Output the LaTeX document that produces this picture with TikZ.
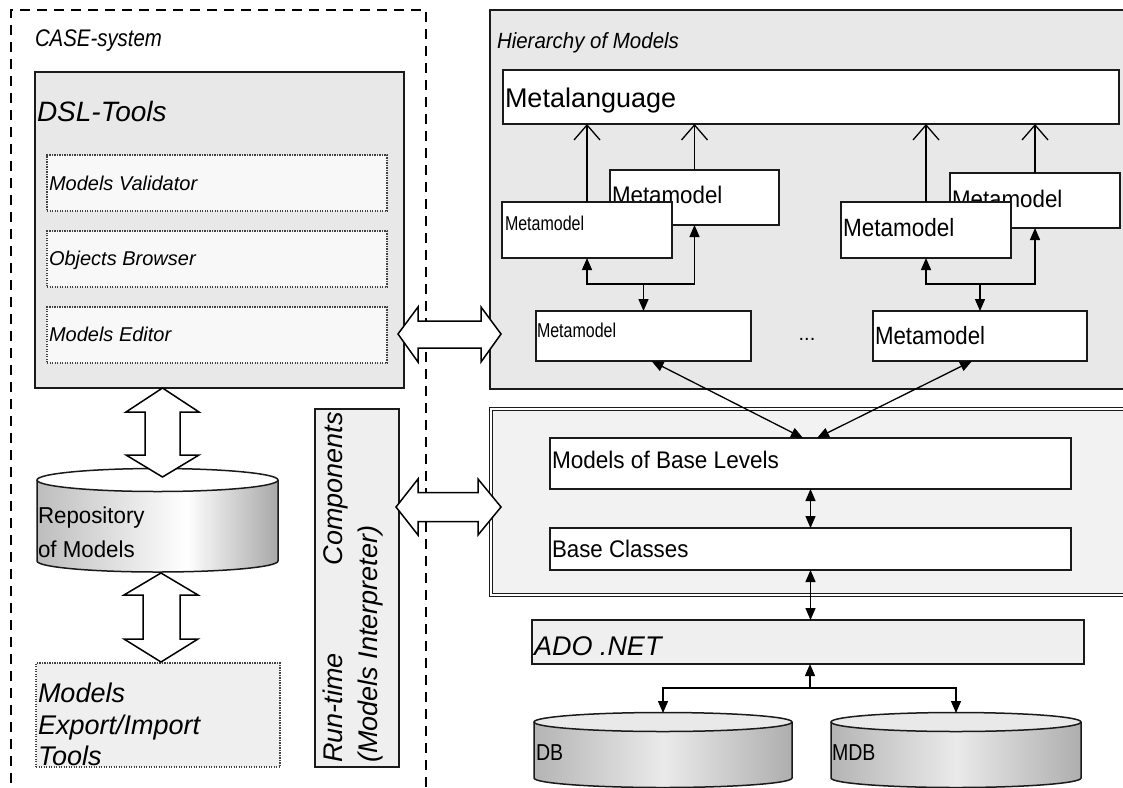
\documentclass[tikz,border=0pt]{standalone}
\usepackage{fontspec}
\setmainfont{Liberation Sans}
\usepackage{graphicx}
\usetikzlibrary{arrows.meta,calc}

\definecolor{panel}{HTML}{E8E8E8}
\definecolor{pale}{HTML}{F8F8F8}
\definecolor{basefill}{HTML}{F2F2F2}
\definecolor{softfill}{HTML}{EFEFEF}
\definecolor{edge}{HTML}{1A1A1A}
\definecolor{cylA}{HTML}{BDBDBD}
\definecolor{cylB}{HTML}{A8A8A8}
\definecolor{cylC}{HTML}{B4B4B4}
\definecolor{cylD}{HTML}{EAEAEA}
\definecolor{cylE}{HTML}{AEAEAE}
\definecolor{cyltop}{HTML}{E9E9E9}

\pgfdeclarehorizontalshading{repobody}{100bp}{color(0bp)=(cylA); color(25bp)=(cylA); color(56bp)=(white); color(75bp)=(cylB); color(100bp)=(cylB)}
\pgfdeclarehorizontalshading{dbbody}{100bp}{color(0bp)=(cylC); color(25bp)=(cylC); color(50bp)=(cylD); color(75bp)=(cylE); color(100bp)=(cylE)}

\newcommand\fs[1]{\fontsize{#1}{#1}\selectfont}
\newcommand\narrow[2]{\scalebox{#1}[1]{#2}}

\tikzset{
  frame/.style={draw=edge, line width=1.6pt, inner sep=0pt, outer sep=0pt, anchor=north west},
  whitebox/.style={frame, fill=white},
  dotbox/.style={draw=black!75, line width=1.1pt, dash pattern=on 1.1pt off 1.4pt, inner sep=0pt, outer sep=0pt, anchor=north west},
  lbl/.style={anchor=base west, inner sep=0pt, outer sep=0pt},
  conn/.style={draw=black, line width=1.3pt},
  tri/.tip={Triangle[length=12pt,width=10pt]},
  barb/.tip={Straight Barb[length=15pt,width=26pt]},
  hollow/.style={draw=black, line width=1.5pt, fill=white, line join=miter},
  cylline/.style={draw=edge, line width=1.5pt},
}

\begin{document}
\begin{tikzpicture}[x=1pt,y=-1pt]
\useasboundingbox (0,0) rectangle (1123,787);
\fill[white] (0,0) rectangle (1123,787);
\clip (0,0) rectangle (1123,787);

% ---------- CASE-system frame ----------
\draw[line width=2pt, dash pattern=on 10pt off 7pt] (11,800) -- (11,10) -- (426,10) -- (426,800);
\node[lbl] (casettl) at (35,46.5) {\fs{24}\itshape\narrow{0.85}{CASE-system}};

% ---------- DSL tools ----------
\node[frame, fill=panel, minimum width=369pt, minimum height=316pt] (dsl) at (35,72) {};
\node[lbl] (dslttl) at (37,121) {\fs{28}\itshape DSL-Tools};
\node[dotbox, fill=pale, minimum width=340pt, minimum height=56pt] (val) at (47,155) {};
\node[lbl] (valttl) at (49,190) {\fs{20}\itshape Models Validator};
\node[dotbox, fill=pale, minimum width=340pt, minimum height=56pt] (bro) at (47,231) {};
\node[lbl] (brottl) at (49,265.5) {\fs{20}\itshape Objects Browser};
\node[dotbox, fill=pale, minimum width=340pt, minimum height=56pt] (edi) at (47,307) {};
\node[lbl] (edittl) at (49,341) {\fs{20}\itshape Models Editor};

% ---------- Hierarchy of models ----------
\node[frame, fill=panel, minimum width=640pt, minimum height=379pt] (hier) at (490,10) {};
\node[lbl] (hierttl) at (497,48) {\fs{22}\itshape\narrow{0.93}{Hierarchy of Models}};
\node[whitebox, minimum width=616pt, minimum height=54pt] (meta) at (503,70) {};
\node[lbl] (metattl) at (505,107) {\fs{27}Metalanguage};

\node[whitebox, minimum width=169pt, minimum height=55pt] (a2) at (610,170) {};
\node[lbl] at (612,203) {\fs{24}\narrow{0.93}{Metamodel}};
\node[whitebox, minimum width=170pt, minimum height=56pt] (a1) at (502,202) {};
\node[lbl] at (505,230) {\fs{20}\narrow{0.8}{Metamodel}};

\node[whitebox, minimum width=170pt, minimum height=55pt] (c2) at (950,173) {};
\node[lbl] at (952,207) {\fs{24}\narrow{0.93}{Metamodel}};
\node[whitebox, minimum width=170pt, minimum height=56pt] (c1) at (841,202) {};
\node[lbl] at (843,236) {\fs{25}\narrow{0.9}{Metamodel}};

\node[whitebox, minimum width=215pt, minimum height=50pt] (b1) at (536,311) {};
\node[lbl] at (537,337) {\fs{20}\narrow{0.8}{Metamodel}};
\node[whitebox, minimum width=214pt, minimum height=50pt] (d1) at (873,311) {};
\node[lbl] at (875,344) {\fs{25}\narrow{0.89}{Metamodel}};
\node[anchor=base, inner sep=0pt] (dots) at (807,340) {\fs{20}...};

% ---------- Base levels ----------
\node[anchor=north west, inner sep=0pt, outer sep=0pt, draw=edge, line width=1.1pt,
      double=white, double distance=2.4pt, fill=basefill,
      minimum width=640pt, minimum height=186pt] (basebox) at (491,409) {};
\node[whitebox, minimum width=521pt, minimum height=51pt] (mbl) at (550,438) {};
\node[lbl] at (552,468) {\fs{24}\narrow{0.94}{Models of Base Levels}};
\node[whitebox, minimum width=521pt, minimum height=42pt] (bc) at (550,528) {};
\node[lbl] at (552,557) {\fs{24}\narrow{0.93}{Base Classes}};

% ---------- ADO .NET ----------
\node[frame, line width=2pt, fill=softfill, minimum width=552pt, minimum height=44pt] (ado) at (532,620) {};
\node[lbl] at (534,655) {\fs{27}\itshape ADO .NET};

% ---------- Databases ----------
\coordinate (dbtop) at (663,713);
\coordinate (mdbtop) at (956,713);
\path[shading=dbbody] (534,722) -- (534,778) arc[start angle=180,end angle=360,x radius=129pt,y radius=9.5pt] -- (792,722) -- cycle;
\draw[cylline] (534,722) -- (534,778) arc[start angle=180,end angle=360,x radius=129pt,y radius=9.5pt] -- (792,722);
\draw[cylline, fill=cyltop] (663,722) ellipse[x radius=129pt, y radius=9.5pt];
\node[lbl] at (536,760) {\fs{23}\narrow{0.85}{DB}};

\path[shading=dbbody] (831,722) -- (831,778) arc[start angle=180,end angle=360,x radius=125pt,y radius=9.5pt] -- (1081,722) -- cycle;
\draw[cylline] (831,722) -- (831,778) arc[start angle=180,end angle=360,x radius=125pt,y radius=9.5pt] -- (1081,722);
\draw[cylline, fill=cyltop] (956,722) ellipse[x radius=125pt, y radius=9.5pt];
\node[lbl] at (832,760) {\fs{23}\narrow{0.85}{MDB}};

% ---------- Repository ----------
\path[shading=repobody] (37,480) -- (37,561) arc[start angle=180,end angle=360,x radius=120.5pt,y radius=11pt] -- (278,480) -- cycle;
\draw[cylline] (37,480) -- (37,561) arc[start angle=180,end angle=360,x radius=120.5pt,y radius=11pt] -- (278,480);
\draw[cylline, fill=white] (157.5,480) ellipse[x radius=120.5pt, y radius=11.5pt];
\node[lbl] at (38,523) {\fs{23}\narrow{0.97}{Repository}};
\node[lbl] at (38,557) {\fs{23}\narrow{0.97}{of Models}};

% ---------- Run-time components ----------
\node[frame, fill=softfill, minimum width=84pt, minimum height=358pt] (rt) at (315,409) {};
\node[anchor=base west, inner sep=0pt, rotate=90] at (342.5,763) {\fs{27}\itshape Run-time};
\node[anchor=base east, inner sep=0pt, rotate=90] at (342.5,412) {\fs{27}\itshape Components};
\node[anchor=base west, inner sep=0pt, rotate=90] at (377,763) {\fs{27}\itshape (Models Interpreter)};

% ---------- Export / import ----------
\node[dotbox, fill=softfill, minimum width=244pt, minimum height=104pt] (exp) at (36,663) {};
\node[lbl] at (38,702) {\fs{27}\itshape Models};
\node[lbl] at (38,734) {\fs{27}\itshape Export/Import};
\node[lbl] at (38,765) {\fs{27}\itshape Tools};

% ---------- Hollow double arrows ----------
\draw[hollow] (398,334) -- (418,307) -- (418,321) -- (481,321) -- (481,307) -- (501,334)
  -- (481,362) -- (481,348) -- (418,348) -- (418,362) -- cycle;
\draw[hollow] (396,507) -- (418,479) -- (418,492.5) -- (478,492.5) -- (478,479) -- (501,507)
  -- (478,535) -- (478,521.5) -- (418,521.5) -- (418,535) -- cycle;
\draw[hollow] (162.5,388) -- (199,412) -- (180,412) -- (180,455) -- (199,455) -- (162.5,477)
  -- (126,455) -- (145,455) -- (145,412) -- (126,412) -- cycle;
\draw[hollow] (161,573) -- (198,595) -- (180,595) -- (180,639) -- (198,639) -- (161,662)
  -- (124,639) -- (143,639) -- (143,595) -- (124,595) -- cycle;

% ---------- Connectors in the hierarchy ----------
\draw[conn,-barb] (a1.north) -- (a1.north |- meta.south);
\draw[conn,-barb] (a2.north) -- (a2.north |- meta.south);
\draw[conn,-barb] (c1.north) -- (c1.north |- meta.south);
\draw[conn,-barb] (c2.north) -- (c2.north |- meta.south);

\coordinate (jl) at (643.5,284);
\coordinate (jr) at (980,284);
\draw[conn,tri-tri] (a1.south) |- (jl) -| (a2.south);
\draw[conn,-tri] (jl) -- (b1.north);
\draw[conn,tri-tri] (c1.south) |- (jr) -| (c2.south);
\draw[conn,-tri] (jr) -- (d1.north);

\draw[conn,tri-tri] ($(b1.south)+(8,0)$) -- ($(mbl.north)+(-7.5,0)$);
\draw[conn,tri-tri] ($(d1.south)+(-8,0)$) -- ($(mbl.north)+(6.5,0)$);

% ---------- Connectors below ----------
\draw[conn,tri-tri] (mbl.south) -- (bc.north);
\draw[conn,tri-tri] (bc.south) -- (bc.south |- ado.north);
\coordinate (jd) at (810,688);
\draw[conn,-tri] (jd) -- (jd |- ado.south);
\draw[conn,tri-tri] (dbtop) |- (jd) -| (mdbtop);
\end{tikzpicture}
\end{document}
